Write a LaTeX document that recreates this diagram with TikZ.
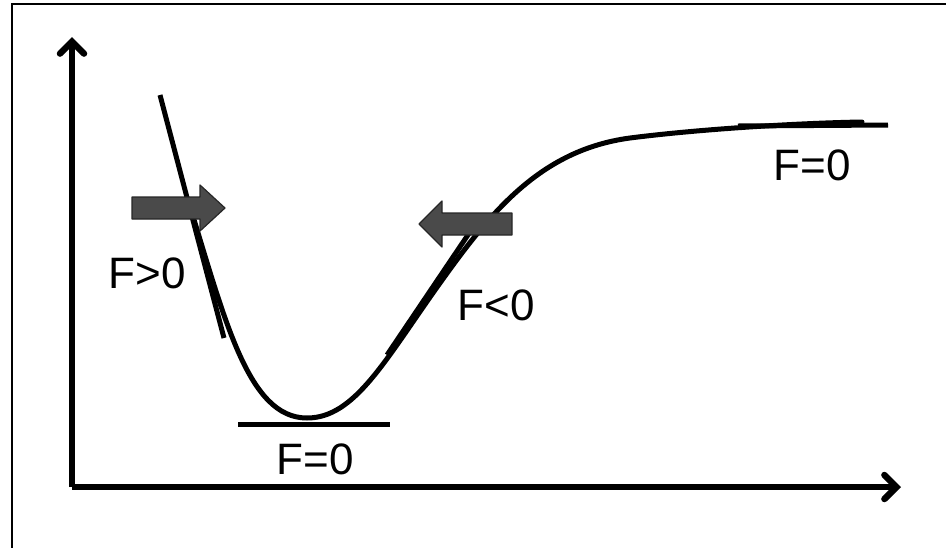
\documentclass[tikz,border=0pt]{standalone}
\usepackage{fontspec}
\setmainfont{Liberation Sans}
\usetikzlibrary{arrows.meta, calc}
\definecolor{blockgray}{HTML}{4A4A4A}

\begin{document}
\begin{tikzpicture}[
        x=1pt, y=-1pt,
        axis/.style={line width=6.5pt, -{Straight Barb[length=12pt, width=24pt, line cap=round]}},
        curve/.style={line width=5pt, line join=round, line cap=round},
        tangent/.style={line width=5pt},
        label/.style={font=\fontsize{44}{50}\selectfont, inner sep=0pt},
        push/.style={fill=blockgray, draw=black!85, line width=1.2pt, line join=round}
      ]
        \useasboundingbox (0,0) rectangle (946,547);
        \draw[line width=2pt] (12,560) -- (12,4) -- (960,4);

        % axes
        \coordinate (origin) at (72,487);
        \coordinate (ytip) at (72,37);
        \coordinate (xtip) at (901,487);
        \draw[axis] (origin) -- (ytip);
        \draw[axis] (origin) -- (xtip);

        % potential curve
        \draw[curve] (188,200) .. controls (225,320) and (248,418) .. (307,418)
          .. controls (355,418) and (385,360) .. (440,283)
          .. controls (490,213) and (540,150) .. (630,138)
          .. controls (700,129) and (800,123) .. (862,122);

        % tangents
        \coordinate (lt1) at (160,95);
        \coordinate (lt2) at (224,338);
        \coordinate (mt1) at (387,355);
        \coordinate (mt2) at (478,220);
        \coordinate (bt1) at (238,424);
        \coordinate (bt2) at (390,424);
        \coordinate (rt1) at (738,126);
        \coordinate (rt2) at (888,125);
        \draw[tangent] (lt1) -- (lt2);
        \draw[tangent] (mt1) -- (mt2);
        \draw[tangent] (bt1) -- (bt2);
        \draw[tangent] (rt1) -- (rt2);

        % force arrows
        \draw[push] (132,197) -- (200,197) -- (200,185) -- (225,208)
          -- (200,231) -- (200,219) -- (132,219) -- cycle;
        \draw[push] (512,213) -- (442,213) -- (442,201) -- (419,224)
          -- (442,247) -- (442,235) -- (512,235) -- cycle;

        \node[label] (fpos) at (147,273) {F>0};
        \node[label] (fneg) at (496,305) {F<0};
        \node[label] (fmin) at (315,459) {F=0};
        \node[label] (finf) at (812,165) {F=0};
      \end{tikzpicture}
\end{document}
